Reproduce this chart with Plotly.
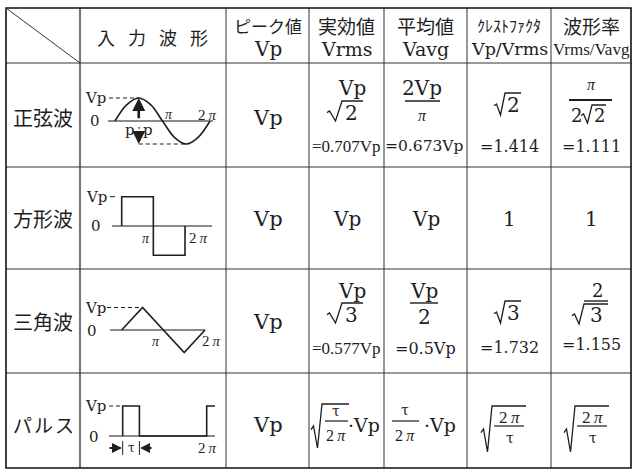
import numpy as np
import plotly.graph_objects as go

W, H = 635, 472

# table grid, pixel edges of columns and rows
COL_EDGES = [6, 80, 226, 309, 384, 467, 551, 631]
ROW_EDGES = [8, 63, 167, 269, 373, 468]

WAVE_HEADER = ["入", "力", "波", "形"]
HEADER_TOP = ["ピーク値", "実効値", "平均値", "ｸﾚｽﾄﾌｧｸﾀ", "波形率"]
HEADER_BOTTOM = ["Vp", "Vrms", "Vavg", "Vp/Vrms", "Vrms/Vavg"]
ROW_LABELS = ["正弦波", "方形波", "三角波", "パルス"]

PEAK = ["Vp", "Vp", "Vp", "Vp"]
RMS_VALUE = ["=0.707Vp", "Vp", "=0.577Vp", None]
AVG_VALUE = ["=0.673Vp", "Vp", "=0.5Vp", None]
CREST_VALUE = ["=1.414", "1", "=1.732", None]
FORM_VALUE = ["=1.111", "1", "=1.155", None]

# waveforms: x in radians, y in units of Vp
PI = np.pi
SINE_X = [0, PI / 4, PI / 2, 3 * PI / 4, PI, 5 * PI / 4, 3 * PI / 2, 7 * PI / 4, 2 * PI]
SINE_Y = [0, 0.71, 1, 0.71, 0, -0.71, -1, -0.71, 0]
SQUARE_X = [0, 0, PI, PI, 2 * PI, 2 * PI]
SQUARE_Y = [0, 1, 1, -1, -1, 0]
TRI_X = [0, PI / 2, 3 * PI / 2, 2 * PI]
TRI_Y = [0, 1, -1, 0]
PULSE_TAU = 1.25
PULSE_X = [0, 0, PULSE_TAU, PULSE_TAU, 2 * PI, 2 * PI, 6.9]
PULSE_Y = [0, 1, 1, 0, 0, 1, 1]

INK = "#1e1e1e"
SERIF = "DejaVu Serif, Noto Sans CJK JP"
NARROW = "Liberation Serif, Noto Sans CJK JP"
JP = "Noto Sans CJK JP"
PI_TXT = "<i>π</i>"
TWO_PI = "2\u2009<i>π</i>"

annotations = []
shapes = []
fig = go.Figure()


def text(x, y, s, size=20, family=SERIF, xref="x", yref="y"):
    annotations.append(dict(x=x, y=y, xref=xref, yref=yref, text=s, showarrow=False,
                            xanchor="center", yanchor="middle",
                            font=dict(size=size, family=family, color=INK)))


def rule(x0, x1, y, width=1.4):
    shapes.append(dict(type="line", xref="x", yref="y", x0=x0, x1=x1, y0=y, y1=y,
                       line=dict(color=INK, width=width)))


def radical(xl, xtop, ytop, ybot, xend, width=1.3):
    h = ybot - ytop
    xv = (xl + xtop) / 2 + 1
    path = (f"M {xl},{ybot - 0.42 * h} L {xl + 2.5},{ybot - 0.5 * h} "
            f"L {xv},{ybot} L {xtop},{ytop} L {xend},{ytop}")
    shapes.append(dict(type="path", xref="x", yref="y", path=path,
                       line=dict(color=INK, width=width)))


# ---- grid ----
for i, xe in enumerate(COL_EDGES[1:-1], start=1):
    shapes.append(dict(type="line", xref="x", yref="y", x0=xe, x1=xe,
                       y0=ROW_EDGES[0], y1=ROW_EDGES[-1],
                       line=dict(color="#7a7a7a" if i == 1 else "#333", width=2.2 if i == 1 else 1)))
for ye in ROW_EDGES[1:-1]:
    shapes.append(dict(type="line", xref="x", yref="y", x0=COL_EDGES[0], x1=COL_EDGES[-1],
                       y0=ye, y1=ye, line=dict(color="#333", width=1)))
shapes.append(dict(type="rect", xref="x", yref="y", x0=COL_EDGES[0], x1=COL_EDGES[-1],
                   y0=ROW_EDGES[0], y1=ROW_EDGES[-1], line=dict(color="#111", width=1.6)))
shapes.append(dict(type="line", xref="x", yref="y", x0=COL_EDGES[0], y0=ROW_EDGES[0],
                   x1=COL_EDGES[1], y1=ROW_EDGES[1], line=dict(color="#333", width=1)))

centers = [(COL_EDGES[i] + COL_EDGES[i + 1]) / 2 for i in range(len(COL_EDGES) - 1)]

# ---- header ----
for k, ch in enumerate(WAVE_HEADER):
    text(106 + 31 * k, 37, ch, 18, JP)
top_sizes = [17, 19, 19, 16, 19]
bot_sizes = [20, 19, 19, 17.5, 17]
bot_fonts = [SERIF, SERIF, SERIF, SERIF, NARROW]
for j in range(5):
    text(centers[j + 2], 25, HEADER_TOP[j], top_sizes[j], JP)
    text(centers[j + 2], 49, HEADER_BOTTOM[j], bot_sizes[j], bot_fonts[j])

# ---- row labels and peak column ----
label_y = [117, 218, 321, 424]
for r, lab in enumerate(ROW_LABELS):
    if lab == "パルス":
        for k, ch in enumerate(lab):
            text(22 + 21 * k, label_y[r], ch, 19, JP)
    else:
        text(centers[0], label_y[r], lab, 20, JP)
    text(centers[2], label_y[r] + 1, PEAK[r], 21)

# ---- sine row formulas ----
t = ROW_EDGES[1]
text(352, t + 25, "Vp", 20)
radical(327, 342, t + 38, t + 58, 363)
text(351, t + 50, "2", 20)
text(346, t + 83, RMS_VALUE[0], 17, NARROW)

text(422, t + 25, "2Vp", 20)
rule(405, 440, t + 38)
text(422, t + 52, PI_TXT, 16, NARROW)
text(424, t + 83, AVG_VALUE[0], 15.5)

radical(494, 505, t + 30, t + 52, 521)
text(513, t + 42, "2", 20)
text(509, t + 83, CREST_VALUE[0], 16)

text(591, t + 21, PI_TXT, 16, NARROW)
rule(569, 612, t + 37, 2.2)
text(576, t + 52, "2", 18)
radical(581, 592, t + 42, t + 60, 606)
text(599, t + 52, "2", 18)
text(591, t + 83, FORM_VALUE[0], 16)

# ---- square row ----
ym = label_y[1] + 1
text(centers[3], ym, RMS_VALUE[1], 20)
text(centers[4], ym, AVG_VALUE[1], 20)
text(centers[5], ym, CREST_VALUE[1], 20)
text(centers[6], ym, FORM_VALUE[1], 20)

# ---- triangle row ----
t = ROW_EDGES[3]
text(352, t + 22, "Vp", 20)
radical(327, 342, t + 34, t + 54, 363)
text(351, t + 46, "3", 20)
text(346, t + 79, RMS_VALUE[2], 17, NARROW)

text(424, t + 22, "Vp", 20)
rule(410, 438, t + 34)
text(424, t + 48, "2", 20)
text(425, t + 79, AVG_VALUE[2], 16)

radical(494, 505, t + 32, t + 54, 521)
text(513, t + 44, "3", 20)
text(509, t + 78, CREST_VALUE[2], 16)

text(597, t + 21, "2", 18)
rule(584, 608, t + 32, 1.4)
radical(572, 584, t + 35, t + 55, 608)
text(596, t + 46, "3", 20)
text(591, t + 75, FORM_VALUE[2], 16)

# ---- pulse row ----
t = ROW_EDGES[4]
radical(311, 322, t + 31, t + 75, 349)
text(336, t + 38, "τ", 14)
rule(325, 348, t + 48, 1.2)
text(336, t + 62, TWO_PI, 16, NARROW)
text(364, t + 52, "·Vp", 19)

text(405, t + 37, "τ", 14)
rule(392, 419, t + 48, 1.2)
text(405, t + 62, TWO_PI, 16, NARROW)
text(440, t + 52, "·Vp", 19)

for cx in (509, 592):
    radical(cx - 28, cx - 17, t + 33, t + 79, cx + 17)
    text(cx, t + 44, TWO_PI, 17, NARROW)
    rule(cx - 15, cx + 15, t + 53, 1.2)
    text(cx + 1, t + 65, "τ", 14)

# ---- waveform cells, each on its own pair of axes in radians / Vp ----
WAVE_PIX = [(115, 210, 121, 98), (121.7, 185, 226, 196.7),
            (121.7, 205, 330, 307.5), (122.7, 206.7, 436, 406)]
layout_axes = {}
for i, (x0, x1, yz, yp) in enumerate(WAVE_PIX):
    n = i + 2
    sx = (x1 - x0) / (2 * PI)
    sy = yz - yp
    left, right = COL_EDGES[1] + 2, COL_EDGES[2] - 1
    top, bot = ROW_EDGES[i + 1] + 1, ROW_EDGES[i + 2] - 1
    layout_axes[f"xaxis{n}"] = dict(domain=[left / W, right / W], range=[(left - x0) / sx, (right - x0) / sx],
                                    visible=False, anchor=f"y{n}", fixedrange=True)
    layout_axes[f"yaxis{n}"] = dict(domain=[1 - bot / H, 1 - top / H], range=[(yz - bot) / sy, (yz - top) / sy],
                                    visible=False, anchor=f"x{n}", fixedrange=True)


def wline(n, xs, ys, color=INK, width=1.6, dash=None, shape="linear"):
    fig.add_trace(go.Scatter(x=xs, y=ys, xaxis=f"x{n}", yaxis=f"y{n}", mode="lines",
                             line=dict(color=color, width=width, dash=dash, shape=shape, smoothing=1.0),
                             hoverinfo="skip", showlegend=False))


def wtext(n, x, y, s, size=15, family=SERIF):
    text(x, y, s, size, family, xref=f"x{n}", yref=f"y{n}")


AXIS_GRAY = "#8a8a8a"
DASH = "4px,3px"

# sine
wline(2, [-0.46, 6.48], [0, 0], AXIS_GRAY, 2.2)
wline(2, [-0.4, PI / 2], [1, 1], INK, 1, DASH)
wline(2, [PI / 2, 3 * PI / 2], [-1, -1], INK, 1, DASH)
wline(2, SINE_X, SINE_Y, INK, 1.6, shape="spline")
wtext(2, -1.26, 1, "Vp")
wtext(2, -1.32, 0, "0")
wtext(2, 3.57, 0.27, PI_TXT, 14, NARROW)
wtext(2, 6.1, 0.27, TWO_PI, 15, NARROW)
for head, tail in ((1, 0.05), (-1, -0.62)):
    annotations.append(dict(x=PI / 2, y=head, ax=PI / 2, ay=tail, xref="x2", yref="y2",
                            axref="x2", ayref="y2", text="", showarrow=True,
                            arrowhead=2, arrowsize=1, arrowwidth=2.6, arrowcolor=INK))
wtext(2, PI / 2 - 0.6, -0.4, "p", 15)
wtext(2, PI / 2 + 0.6, -0.4, "p", 15)
wtext(2, PI / 2, -0.36, ":", 12)

# square
wline(3, [-0.97, 8.96], [0, 0], AXIS_GRAY, 2.2)
wline(3, [-1.16, -0.66], [1, 1], INK, 1)
wline(3, SQUARE_X, SQUARE_Y, INK, 1.6)
wtext(3, -2.55, 1, "Vp")
wtext(3, -2.55, 0, "0")
wtext(3, 2.41, -0.41, PI_TXT, 14, NARROW)
wtext(3, 7.67, -0.41, TWO_PI, 15, NARROW)

# triangle
wline(4, [-0.88, 2 * PI], [0, 0], AXIS_GRAY, 2.2)
wline(4, [-1.11, PI / 2], [1, 1], INK, 1, DASH)
wline(4, TRI_X, TRI_Y, INK, 1.6)
wtext(4, -2.01, 1, "Vp")
wtext(4, -2.24, -0.04, "0")
wtext(4, 2.59, -0.53, PI_TXT, 14, NARROW)
wtext(4, 6.81, -0.49, TWO_PI, 15, NARROW)

# pulse
wline(5, [-1.02, 6.9], [0, 0], AXIS_GRAY, 2.2)
wline(5, [-1.02, 0], [1, 1], INK, 1, DASH)
wline(5, PULSE_X, PULSE_Y, INK, 1.6)
wline(5, [0, 0], [-0.17, -0.63], INK, 1)
wline(5, [PULSE_TAU, PULSE_TAU], [-0.17, -0.63], INK, 1)
wtext(5, -2.0, 1, "Vp")
wtext(5, -2.15, -0.03, "0")
wtext(5, PULSE_TAU / 2, -0.4, "τ", 12)
wtext(5, 6.38, -0.4, TWO_PI, 15, NARROW)
for head, tail in ((-0.05, -1.1), (PULSE_TAU + 0.05, 2.27)):
    annotations.append(dict(x=head, y=-0.4, ax=tail, ay=-0.4, xref="x5", yref="y5",
                            axref="x5", ayref="y5", text="", showarrow=True,
                            arrowhead=2, arrowsize=1, arrowwidth=2, arrowcolor=INK))

fig.update_layout(
    width=W, height=H, margin=dict(l=0, r=0, t=0, b=0),
    paper_bgcolor="white", plot_bgcolor="white", showlegend=False,
    xaxis=dict(domain=[0, 1], range=[0, W], visible=False, fixedrange=True),
    yaxis=dict(domain=[0, 1], range=[H, 0], visible=False, fixedrange=True),
    annotations=annotations, shapes=shapes, **layout_axes,
)

fig.write_html("out.html", config={"displayModeBar": False},
               post_script="document.body.style.margin='0';")
